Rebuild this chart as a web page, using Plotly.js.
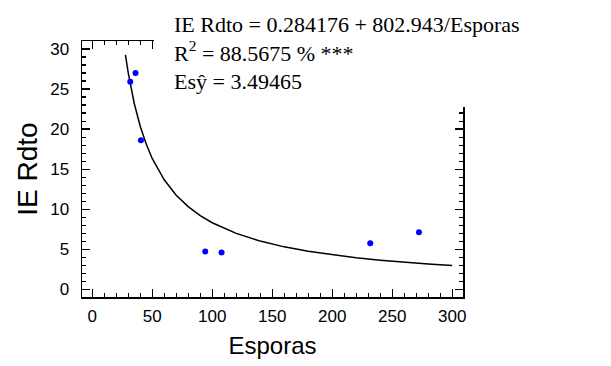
<!DOCTYPE html>
<html>
<head>
<meta charset="utf-8">
<script src="https://cdn.plot.ly/plotly-3.0.1.min.js"></script>
<style>html,body{margin:0;padding:0;background:#fff}#chart{width:611px;height:366px}</style>
</head>
<body>
<div id="chart"></div>
<script>
// Observed data
const esporas = [31.7, 36.1, 40.6, 94.2, 107.8, 231.7, 272.3];
const ieRdto  = [25.9, 27.0, 18.6, 4.73, 4.6, 5.76, 7.13];

// Fitted curve
const fitX = [27.7, 30, 35, 40, 45, 50, 60, 70, 80, 90, 100, 120, 140, 160, 180, 200, 220, 240, 260, 280, 300];
const fitY = [29.27, 27.05, 23.23, 20.36, 18.13, 16.34, 13.67, 11.75, 10.32, 9.21, 8.31, 6.98, 6.02, 5.30, 4.74, 4.30, 3.93, 3.63, 3.37, 3.15, 2.96];

const xTickVals = [0, 50, 100, 150, 200, 250, 300];
const yTickVals = [0, 5, 10, 15, 20, 25, 30];

const statLines = [
  'IE Rdto = 0.284176 + 802.943/Esporas',
  'R<sup>2</sup> = 88.5675 % ***',
  'Esŷ = 3.49465'
];

const axisCommon = {
  showline: true, linecolor: '#000', linewidth: 1.5, mirror: 'allticks',
  ticks: 'inside', ticklen: 8, tickwidth: 1.3, tickcolor: '#000',
  showgrid: false, zeroline: false,
  tickfont: {family: 'Liberation Sans, Arial, sans-serif', size: 17, color: '#000'}
};

const traces = [
  {x: fitX, y: fitY, mode: 'lines', line: {color: '#000', width: 1.5}, hoverinfo: 'skip'},
  {x: esporas, y: ieRdto, mode: 'markers', marker: {color: '#0000ff', size: 6}}
];

const layout = {
  width: 611, height: 366,
  margin: {l: 82, r: 148, t: 41, b: 69},
  paper_bgcolor: '#fff', plot_bgcolor: '#fff',
  showlegend: false,
  xaxis: Object.assign({}, axisCommon, {
    range: [-8.5, 309], tickvals: xTickVals,
    minor: {dtick: 10, ticks: 'inside', ticklen: 4, tickwidth: 1.2, tickcolor: '#000', showgrid: false},
    ticklabelstandoff: 3,
    title: {text: 'Esporas', font: {family: 'Liberation Sans, Arial, sans-serif', size: 24, color: '#000'}, standoff: 12}
  }),
  yaxis: Object.assign({}, axisCommon, {
    range: [-0.96, 31], tickvals: yTickVals,
    minor: {dtick: 1, ticks: 'inside', ticklen: 4, tickwidth: 1.2, tickcolor: '#000', showgrid: false},
    ticklabelstandoff: 8,
    title: {text: 'IE Rdto', font: {family: 'Liberation Sans, Arial, sans-serif', size: 28, color: '#000'}, standoff: 4}
  }),
  shapes: [
    {type: 'rect', xref: 'paper', yref: 'paper', x0: 0.189, x1: 1.4, y0: 0.742, y1: 1.3,
     fillcolor: '#fff', line: {width: 0}, layer: 'above'}
  ],
  annotations: [
    {xref: 'paper', yref: 'paper', x: 0.235, y: 1.0, xanchor: 'left', yanchor: 'top', yshift: 31,
     align: 'left', showarrow: false, text: statLines.join('<br>'),
     font: {family: 'Liberation Serif, Times New Roman, serif', size: 22, color: '#000'}}
  ]
};

Plotly.newPlot('chart', traces, layout, {staticPlot: true, displayModeBar: false});
</script>
</body>
</html>
